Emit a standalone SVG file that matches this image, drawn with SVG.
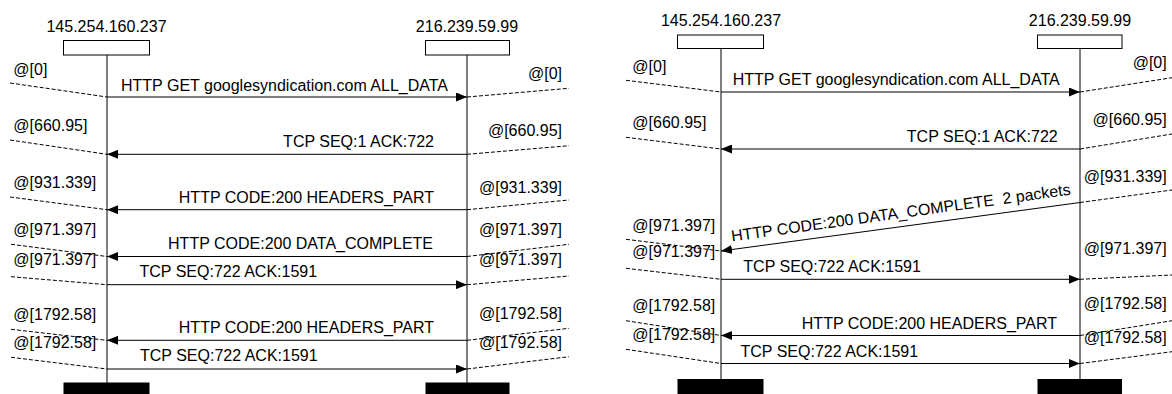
<svg xmlns="http://www.w3.org/2000/svg" width="1172" height="394" viewBox="0 0 1172 394">
<style>
text{font-family:"Liberation Sans",Arial,sans-serif;font-size:16px;fill:#000}
.e{text-anchor:end}
.m{text-anchor:middle}
.box{fill:#fff;stroke:#000;stroke-width:1}
.bar{fill:#000}
.life{stroke:#000;stroke-width:1}
.msg{stroke:#000;stroke-width:1;fill:none}
.dash{stroke:#000;stroke-width:1;stroke-dasharray:4,2;fill:none}
</style>
<defs>
<marker id="ah" viewBox="0 0 11 9" refX="11" refY="4.5" markerWidth="11" markerHeight="9" markerUnits="userSpaceOnUse" orient="auto">
<path d="M0,0 L11,4.5 L0,9 Z" fill="#000"/>
</marker>
</defs>
<rect width="1172" height="394" fill="#fff"/>

<!-- Left diagram nodes -->
<g id="A1">
<text class="m" x="106.5" y="32">145.254.160.237</text>
<rect class="box" x="63.5" y="40.5" width="86" height="14.5"/>
<line class="life" x1="107" y1="55" x2="107" y2="383"/>
<rect class="bar" x="63.5" y="382.5" width="86" height="12"/>
</g>
<g id="B1">
<text class="m" x="467" y="32">216.239.59.99</text>
<rect class="box" x="425.5" y="40.5" width="84" height="14.5"/>
<line class="life" x1="467" y1="55" x2="467" y2="383"/>
<rect class="bar" x="425.5" y="382.5" width="84" height="12"/>
</g>

<!-- Right diagram nodes -->
<g id="A2">
<text class="m" x="721" y="26">145.254.160.237</text>
<rect class="box" x="677.5" y="35" width="86" height="13.5"/>
<line class="life" x1="721" y1="48.5" x2="721" y2="379"/>
<rect class="bar" x="677.5" y="379" width="86" height="15"/>
</g>
<g id="B2">
<text class="m" x="1080" y="26">216.239.59.99</text>
<rect class="box" x="1037.5" y="35" width="84.5" height="13.5"/>
<line class="life" x1="1080" y1="48.5" x2="1080" y2="379"/>
<rect class="bar" x="1037.5" y="379" width="84.5" height="15"/>
</g>

<g id="connectors">
<!-- left diagram messages -->
<line class="msg" x1="107" y1="97" x2="467" y2="97" marker-end="url(#ah)"/>
<line class="msg" x1="467" y1="154.3" x2="107" y2="154.3" marker-end="url(#ah)"/>
<line class="msg" x1="467" y1="209.7" x2="107" y2="209.7" marker-end="url(#ah)"/>
<line class="msg" x1="467" y1="256.5" x2="107" y2="256.5" marker-end="url(#ah)"/>
<line class="msg" x1="107" y1="284.7" x2="467" y2="284.7" marker-end="url(#ah)"/>
<line class="msg" x1="467" y1="340.3" x2="107" y2="340.3" marker-end="url(#ah)"/>
<line class="msg" x1="107" y1="369" x2="467" y2="369" marker-end="url(#ah)"/>
<!-- left diagram time ticks -->
<line class="dash" x1="10" y1="83" x2="107" y2="97"/>
<line class="dash" x1="10" y1="140" x2="107" y2="154.3"/>
<line class="dash" x1="10" y1="197" x2="107" y2="209.7"/>
<line class="dash" x1="11" y1="244.3" x2="107" y2="256.5"/>
<line class="dash" x1="11" y1="276.7" x2="107" y2="284.7"/>
<line class="dash" x1="11" y1="329.3" x2="107" y2="340.3"/>
<line class="dash" x1="11" y1="357.3" x2="107" y2="369"/>
<line class="dash" x1="467" y1="97" x2="569" y2="88.3"/>
<line class="dash" x1="467" y1="154.3" x2="569" y2="145.7"/>
<line class="dash" x1="467" y1="209.7" x2="569" y2="200"/>
<line class="dash" x1="467" y1="256.5" x2="569" y2="244.3"/>
<line class="dash" x1="467" y1="284.7" x2="569" y2="276"/>
<line class="dash" x1="467" y1="340.3" x2="569" y2="328.3"/>
<line class="dash" x1="467" y1="369" x2="569" y2="356.7"/>
<!-- right diagram messages -->
<line class="msg" x1="721" y1="92" x2="1080" y2="92" marker-end="url(#ah)"/>
<line class="msg" x1="1080" y1="149" x2="721" y2="149" marker-end="url(#ah)"/>
<line class="msg" x1="1080" y1="202.5" x2="721" y2="251" marker-end="url(#ah)"/>
<line class="msg" x1="721" y1="279.3" x2="1080" y2="279.3" marker-end="url(#ah)"/>
<line class="msg" x1="1080" y1="335.5" x2="721" y2="335.5" marker-end="url(#ah)"/>
<line class="msg" x1="721" y1="363.5" x2="1080" y2="363.5" marker-end="url(#ah)"/>
<!-- right diagram time ticks -->
<line class="dash" x1="626" y1="80.3" x2="721" y2="92"/>
<line class="dash" x1="626" y1="137.3" x2="721" y2="149"/>
<line class="dash" x1="626" y1="239.3" x2="721" y2="251"/>
<line class="dash" x1="626" y1="268.3" x2="721" y2="279.3"/>
<line class="dash" x1="626" y1="320.7" x2="721" y2="335.5"/>
<line class="dash" x1="626" y1="349.3" x2="721" y2="363.5"/>
<line class="dash" x1="1080" y1="92" x2="1172" y2="77.7"/>
<line class="dash" x1="1080" y1="149" x2="1172" y2="134"/>
<line class="dash" x1="1080" y1="202.5" x2="1172" y2="190"/>
<line class="dash" x1="1080" y1="279.3" x2="1172" y2="275"/>
<line class="dash" x1="1080" y1="335.5" x2="1172" y2="320.7"/>
<line class="dash" x1="1080" y1="363.5" x2="1172" y2="351.7"/>
</g>

<g id="labels-left">
<text x="121" y="90.5">HTTP GET googlesyndication.com ALL_DATA</text>
<text class="e" x="434" y="147.3">TCP SEQ:1 ACK:722</text>
<text class="e" x="434" y="202.5">HTTP CODE:200 HEADERS_PART</text>
<text class="e" x="433" y="248.7">HTTP CODE:200 DATA_COMPLETE</text>
<text x="139.5" y="277.3">TCP SEQ:722 ACK:1591</text>
<text class="e" x="434" y="332.7">HTTP CODE:200 HEADERS_PART</text>
<text x="140" y="361.3">TCP SEQ:722 ACK:1591</text>
<text x="13.3" y="75">@[0]</text>
<text x="13.3" y="130.7">@[660.95]</text>
<text x="13.3" y="187.5">@[931.339]</text>
<text x="13.3" y="235">@[971.397]</text>
<text x="13.3" y="264.5">@[971.397]</text>
<text x="13.3" y="320">@[1792.58]</text>
<text x="13.3" y="348.3">@[1792.58]</text>
<text class="e" x="562" y="79.3">@[0]</text>
<text class="e" x="562" y="136">@[660.95]</text>
<text class="e" x="562" y="192.7">@[931.339]</text>
<text class="e" x="562" y="235">@[971.397]</text>
<text class="e" x="562" y="265">@[971.397]</text>
<text class="e" x="562" y="319">@[1792.58]</text>
<text class="e" x="562" y="348.3">@[1792.58]</text>
</g>

<g id="labels-right">
<text x="732.7" y="85">HTTP GET googlesyndication.com ALL_DATA</text>
<text class="e" x="1057.7" y="141.7">TCP SEQ:1 ACK:722</text>
<text transform="translate(732,241.5) rotate(-7.88)" style="white-space:pre">HTTP CODE:200 DATA_COMPLETE  2 packets</text>
<text x="743.3" y="271.7">TCP SEQ:722 ACK:1591</text>
<text class="e" x="1057" y="328.5">HTTP CODE:200 HEADERS_PART</text>
<text x="740.5" y="356.5">TCP SEQ:722 ACK:1591</text>
<text x="632.3" y="72.3">@[0]</text>
<text x="632.3" y="128.3">@[660.95]</text>
<text x="632.3" y="231">@[971.397]</text>
<text x="632.3" y="257.3">@[971.397]</text>
<text x="632.3" y="311.3">@[1792.58]</text>
<text x="632.3" y="339.5">@[1792.58]</text>
<text class="e" x="1166.7" y="67.8">@[0]</text>
<text class="e" x="1166.7" y="125.3">@[660.95]</text>
<text class="e" x="1166.7" y="182.3">@[931.339]</text>
<text class="e" x="1166.7" y="253.7">@[971.397]</text>
<text class="e" x="1166.7" y="309.3">@[1792.58]</text>
<text class="e" x="1166.7" y="343.3">@[1792.58]</text>
</g>
</svg>
